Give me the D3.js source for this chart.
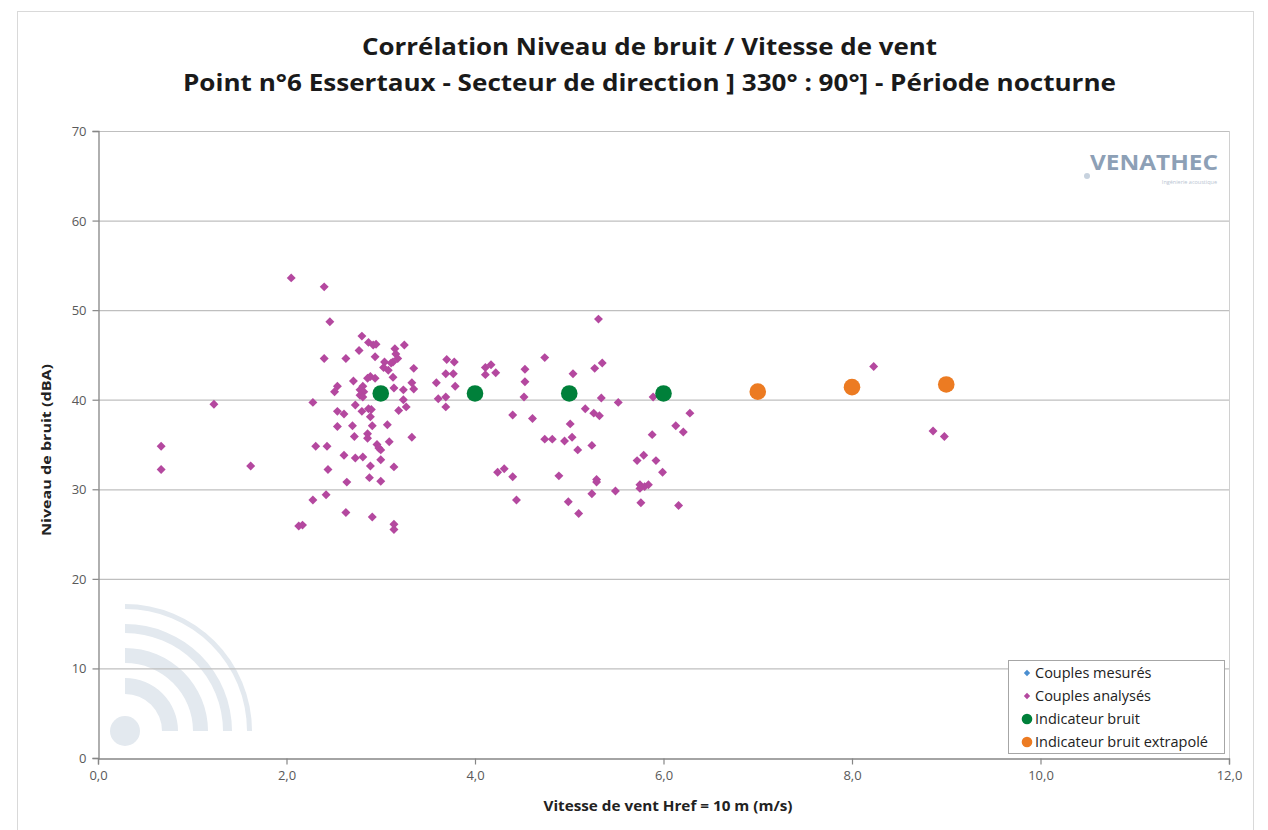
<!DOCTYPE html>
<html><head><meta charset="utf-8">
<script src="https://cdn.jsdelivr.net/npm/d3@7"></script>
<style>
body{margin:0;background:#fff;}
svg{display:block;font-family:"Open Sans","Noto Sans",sans-serif;}
</style></head>
<body>
<svg id="c" width="1268" height="830"></svg>
<script>
const titleLines = ["Corrélation Niveau de bruit / Vitesse de vent",
  "Point n°6 Essertaux - Secteur de direction ] 330° : 90°] - Période nocturne"];
const xTicks = [0,2,4,6,8,10,12];
const yTicks = [0,10,20,30,40,50,60,70];
const xLabel = "Vitesse de vent Href = 10 m (m/s)";
const yLabel = "Niveau de bruit (dBA)";
const legendLabels = ["Couples mesurés","Couples analysés","Indicateur bruit","Indicateur bruit extrapolé"];

// Couples analysés [vitesse, niveau]
const couplesAnalyses = [
[0.67,34.8],[0.67,32.2],[1.23,39.5],[1.62,32.6],[2.05,53.6],[2.40,52.6],[2.46,48.7],[2.40,44.6],[2.63,44.6],
[2.54,41.5],[2.51,40.9],[2.28,39.7],[2.54,38.7],[2.61,38.4],[2.54,37.0],[2.31,34.8],[2.43,34.8],[2.44,32.2],
[2.61,33.8],[2.64,30.8],[2.28,28.8],[2.42,29.4],[2.63,27.4],[2.13,25.9],[2.17,26.0],
[2.80,47.1],[2.87,46.4],[2.92,46.1],[2.95,46.2],[2.77,45.5],[2.94,44.8],[3.15,45.7],[3.25,46.1],[3.16,45.1],
[3.18,44.6],[3.13,44.2],[3.11,44.1],[3.04,44.2],[3.03,43.6],[3.08,43.3],[3.13,42.5],[3.35,43.5],[3.33,41.9],
[3.35,41.2],[3.24,41.1],[3.14,41.3],[2.89,42.6],[2.94,42.4],[2.86,42.4],[2.71,42.1],[2.81,41.5],[2.78,41.1],
[2.82,40.9],[2.78,40.5],[2.81,40.3],[2.73,39.4],[2.80,38.7],[2.87,39.0],[2.90,38.9],[2.89,38.1],[3.19,38.8],
[3.24,40.0],[3.27,39.2],[2.70,37.1],[2.91,37.1],[3.07,37.2],[2.72,35.9],[2.86,36.2],[2.86,35.7],[3.09,35.3],
[3.33,35.8],[2.96,35.0],[2.98,34.6],[3.00,34.4],[2.73,33.5],[2.81,33.6],[3.00,33.3],[2.89,32.6],[3.14,32.5],
[2.88,31.3],[3.00,30.9],[2.91,26.9],[3.14,26.1],[3.14,25.5],
[3.70,44.5],[3.78,44.2],[3.69,42.9],[3.77,42.9],[3.59,41.9],[3.79,41.5],[3.61,40.1],[3.69,40.3],[3.69,39.2],
[4.11,43.6],[4.17,43.9],[4.11,42.8],[4.22,43.0],[4.53,43.4],[4.53,42.0],[4.52,40.3],[4.74,44.7],[4.40,38.3],
[4.61,37.9],[4.24,31.9],[4.31,32.3],[4.40,31.4],[4.44,28.8],[5.04,42.9],[5.27,43.5],[5.35,44.1],[5.31,49.0],
[5.34,40.2],[5.17,39.0],[5.26,38.5],[5.32,38.2],[5.52,39.7],[5.01,37.3],[4.74,35.6],[4.82,35.6],[4.95,35.4],
[5.03,35.8],[5.09,34.4],[5.24,34.9],[5.88,36.1],[5.72,33.2],[5.79,33.8],[5.92,33.2],[4.89,31.5],[5.29,31.1],
[5.29,30.8],[4.99,28.6],[5.10,27.3],[5.24,29.5],[5.49,29.8],[5.75,30.5],[5.80,30.3],[5.84,30.5],[5.75,30.1],
[5.76,28.5],[5.89,40.3],[6.28,38.5],[6.13,37.1],[6.21,36.4],[5.99,31.9],[6.16,28.2],
[8.23,43.7],[8.86,36.5],[8.98,35.9]
];
const indicateurVitesse = [3,4,5,6];
const indicateurNiveau = [40.7,40.7,40.7,40.7];
const extrapoleVitesse = [7,8,9];
const extrapoleNiveau = [40.9,41.4,41.7];

const C = {purple:"#b4489f", blue:"#4a8ed0", green:"#00803a", orange:"#ec7b22",
  grid:"#bfbfbf", axis:"#868686", text:"#595959"};

const svg = d3.select("#c");
const L=98, R=1229, T=131, B=758;
const x = d3.scaleLinear().domain([0,12]).range([L,R]);
const y = d3.scaleLinear().domain([0,70]).range([B,T]);

// chart border
svg.append("rect").attr("x",17.5).attr("y",11.5).attr("width",1236).attr("height",830)
  .attr("fill","#fff").attr("stroke","#d9d9d9");

// watermark arcs bottom-left
const wm = svg.append("g").attr("transform",`translate(125,731)`).attr("fill","#e3e9ef");
wm.append("circle").attr("r",15);
[[37,53],[68,83],[98,107],[122,127]].forEach(([ri,ro])=>{
  wm.append("path").attr("d", d3.arc().innerRadius(ri).outerRadius(ro).startAngle(0).endAngle(Math.PI/2)());
});

// gridlines
svg.append("g").selectAll("line").data(yTicks.filter(d=>d>0)).join("line")
  .attr("x1",L).attr("x2",R).attr("y1",d=>y(d)+0.5).attr("y2",d=>y(d)+0.5)
  .attr("stroke",C.grid).attr("stroke-width",1.2);
svg.append("line").attr("x1",R+0.5).attr("x2",R+0.5).attr("y1",T).attr("y2",B).attr("stroke","#d0d0d0");

// axes
const fmt = d=>d3.format(".1f")(d).replace(".",",");
const gx = svg.append("g").attr("transform",`translate(0,${B+0.5})`)
  .call(d3.axisBottom(x).tickValues(xTicks).tickFormat(fmt).tickSize(6).tickPadding(6));
const gy = svg.append("g").attr("transform",`translate(${L+0.5},0)`)
  .call(d3.axisLeft(y).tickValues(yTicks).tickSize(6).tickPadding(6));
[gx,gy].forEach(g=>{
  g.select(".domain").attr("stroke",C.axis).attr("stroke-width",1.3);
  g.selectAll(".tick line").attr("stroke",C.axis).attr("stroke-width",1.2);
  g.selectAll(".tick text").attr("fill",C.text).attr("font-size",13)
   .attr("font-family","'Open Sans',sans-serif");
});
gy.selectAll(".tick text").attr("dy","0.35em");

// axis titles
svg.append("text").attr("x",668).attr("y",811).attr("text-anchor","middle")
  .attr("font-size",13.5).attr("font-weight","bold").attr("fill","#222")
  .attr("textLength",249).attr("lengthAdjust","spacingAndGlyphs").text(xLabel);
svg.append("text").attr("transform",`translate(51,450) rotate(-90)`).attr("text-anchor","middle")
  .attr("font-size",13).attr("font-weight","bold").attr("fill","#222")
  .attr("textLength",172).attr("lengthAdjust","spacingAndGlyphs").text(yLabel);

// title
const titleW = [575, 933];
svg.selectAll(".title").data(titleLines).join("text").attr("class","title")
  .attr("x",649.5).attr("y",(d,i)=>55+i*36).attr("text-anchor","middle")
  .attr("font-size",24).attr("font-weight","bold").attr("fill","#1a1a1a")
  .attr("textLength",(d,i)=>titleW[i]).attr("lengthAdjust","spacingAndGlyphs").text(d=>d);

// logo
const lg = svg.append("g");
lg.append("text").attr("x",1090).attr("y",170).attr("font-size",22).attr("font-weight","bold")
  .attr("fill","#8da0b6").attr("textLength",128).attr("lengthAdjust","spacingAndGlyphs").text("VENATHEC");
lg.append("text").attr("x",1217).attr("y",184).attr("text-anchor","end").attr("font-size",5.5)
  .attr("fill","#b9c5d2").text("Ingénierie acoustique");
lg.append("circle").attr("cx",1087).attr("cy",176).attr("r",3).attr("fill","#c7d2de");

// diamonds (rotated squares)
const diamond = d3.symbol().type(d3.symbolSquare).size(40);
svg.append("g").selectAll("path").data(couplesAnalyses).join("path")
  .attr("transform",d=>`translate(${x(d[0])},${y(d[1])}) rotate(45)`)
  .attr("d",diamond).attr("fill",C.purple);

// indicators
svg.append("g").selectAll("circle").data(indicateurVitesse).join("circle")
  .attr("cx",d=>x(d)).attr("cy",(d,i)=>y(indicateurNiveau[i])).attr("r",8.3).attr("fill",C.green);
svg.append("g").selectAll("circle").data(extrapoleVitesse).join("circle")
  .attr("cx",d=>x(d)).attr("cy",(d,i)=>y(extrapoleNiveau[i])).attr("r",8.3).attr("fill",C.orange);

// legend
const lgd = svg.append("g").attr("transform","translate(1008,660)");
lgd.append("rect").attr("x",0.5).attr("y",0.5).attr("width",216).attr("height",93)
  .attr("fill","#fff").attr("stroke","#a6a6a6");
legendLabels.forEach((t,i)=>{
  const cy = 13+i*23;
  const g = lgd.append("g").attr("transform",`translate(0,${cy})`);
  if(i<2){
    g.append("path").attr("d",d3.symbol().type(d3.symbolSquare).size(20)())
      .attr("transform","translate(19,0) rotate(45)").attr("fill",i===0?C.blue:C.purple);
  } else {
    g.append("circle").attr("cx",19).attr("r",5.3).attr("fill",i===2?C.green:C.orange);
  }
  g.append("text").attr("x",27).attr("dy","0.35em").attr("font-size",14.5).attr("fill","#222").text(t);
});
</script>
</body></html>
